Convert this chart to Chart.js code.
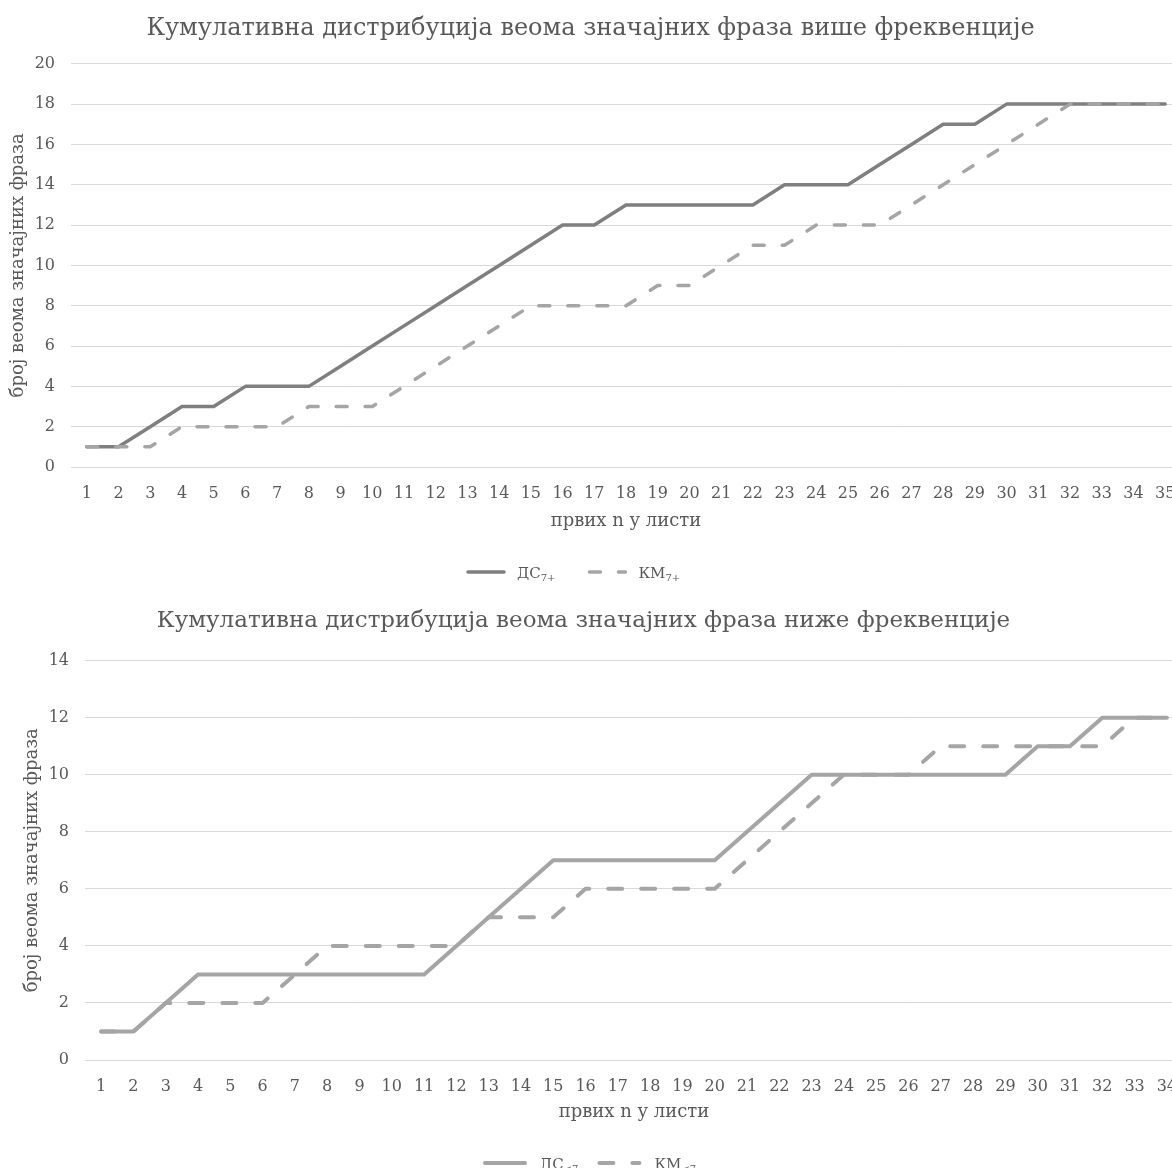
<!DOCTYPE html>
<html>
<head>
<meta charset="utf-8">
<script src="https://cdn.jsdelivr.net/npm/chart.js@4.4.1/dist/chart.umd.min.js"></script>
<style>
  html, body { margin: 0; padding: 0; background: #fff; overflow: hidden; }
  .box { position: relative; overflow: hidden; width: 1172px; }
  canvas { display: block; }
</style>
</head>
<body>
<div class="box" style="height:590px"><canvas id="chartTop" width="1182" height="590"></canvas></div>
<div class="box" style="height:578px"><canvas id="chartBottom" width="1200" height="578" style="margin-left:-16px"></canvas></div>
<script>
// верх: више фреквенције
const topLabels = ['1','2','3','4','5','6','7','8','9','10','11','12','13','14','15','16','17','18','19','20',
  '21','22','23','24','25','26','27','28','29','30','31','32','33','34','35'];
const topDS = [1,1,2,3,3,4,4,4,5,6,7,8,9,10,11,12,12,13,13,13,13,13,14,14,14,15,16,17,17,18,18,18,18,18,18];
const topKM = [1,1,1,2,2,2,2,3,3,3,4,5,6,7,8,8,8,8,9,9,10,11,11,12,12,12,13,14,15,16,17,18,18,18,18];
const topLegend = ['ДС', 'КМ'];
const topSub = ['7+', '7+'];

// доле: ниже фреквенције
const bottomLabels = ['1','2','3','4','5','6','7','8','9','10','11','12','13','14','15','16','17','18','19','20',
  '21','22','23','24','25','26','27','28','29','30','31','32','33','34'];
const bottomDS = [1,1,2,3,3,3,3,3,3,3,3,4,5,6,7,7,7,7,7,7,8,9,10,10,10,10,10,10,10,11,11,12,12,12];
const bottomKM = [1,1,2,2,2,2,3,4,4,4,4,4,5,5,5,6,6,6,6,6,7,8,9,10,10,10,11,11,11,11,11,11,12,12];
const bottomLegend = ['ДС', 'КМ'];
const bottomSub = ['<7', '<7'];

const FONT = "'DejaVu Serif', serif";
const TEXT = '#595959';

// legend with subscripts, drawn by hand
const subLegend = {
  id: 'subLegend',
  afterDraw(chart, args, opts) {
    const ctx = chart.ctx;
    const sets = chart.data.datasets;
    const W = opts.sample, gap = opts.gap;
    let x = opts.left;
    const y = opts.y;
    ctx.save();
    sets.forEach((ds, i) => {
      ctx.beginPath();
      ctx.strokeStyle = ds.borderColor;
      ctx.lineWidth = ds.borderWidth;
      ctx.lineCap = ds.borderCapStyle || 'butt';
      ctx.setLineDash(ds.borderDash || []);
      ctx.moveTo(x, y);
      ctx.lineTo(x + W, y);
      ctx.stroke();
      ctx.setLineDash([]);
      ctx.fillStyle = TEXT;
      ctx.textBaseline = 'alphabetic';
      ctx.textAlign = 'left';
      ctx.font = '15px ' + FONT;
      const tx = x + W + gap;
      ctx.fillText(opts.texts[i], tx, y + 6);
      const a = ctx.measureText(opts.texts[i]).width;
      ctx.font = '10px ' + FONT;
      ctx.fillText(opts.subs[i], tx + a, y + 9);
      const b = ctx.measureText(opts.subs[i]).width;
      x = tx + a + b + opts.between;
    });
    ctx.restore();
  }
};

function makeChart(id, cfg) {
  return new Chart(document.getElementById(id), {
    type: 'line',
    data: {
      labels: cfg.labels,
      datasets: [
        { label: cfg.legend[0], data: cfg.ds, borderColor: cfg.dsColor, borderWidth: cfg.lw,
          pointRadius: 0, tension: 0, order: 1, borderCapStyle: 'round', borderJoinStyle: 'round' },
        { label: cfg.legend[1], data: cfg.km, borderColor: cfg.kmColor, borderWidth: cfg.lw,
          borderDash: cfg.dash, pointRadius: 0, tension: 0, order: 0, borderCapStyle: 'round', borderJoinStyle: 'round' }
      ]
    },
    options: {
      responsive: false,
      animation: false,
      events: [],
      layout: { padding: { left: 0, right: cfg.padRight, top: 0, bottom: cfg.padBottom } },
      plugins: {
        legend: { display: false },
        tooltip: { enabled: false },
        title: {
          display: true,
          text: cfg.title,
          color: TEXT,
          font: { family: FONT, size: cfg.titleSize, weight: 'normal' },
          padding: cfg.titlePad
        },
        subLegend: { texts: cfg.legend, subs: cfg.subs, sample: cfg.sample, gap: cfg.gap, between: cfg.between, left: cfg.legendLeft, y: cfg.legendY }
      },
      scales: {
        x: {
          offset: true,
          grid: { display: false, drawTicks: true, tickLength: 17 },
          border: { display: false },
          ticks: { color: TEXT, font: { family: FONT, size: 16 }, autoSkip: false, maxRotation: 0, padding: 0 },
          title: { display: true, text: 'првих n у листи', color: TEXT, font: { family: FONT, size: 18 }, padding: 0 },
          afterFit: s => { s.height = cfg.xHeight; }
        },
        y: {
          min: 0,
          max: cfg.ymax,
          ticks: { stepSize: 2, color: TEXT, font: { family: FONT, size: 16 }, padding: cfg.yTickPad },
          grid: { color: '#d9d9d9', lineWidth: 1, drawTicks: false },
          border: { display: false },
          title: { display: true, text: 'број веома значајних фраза', color: TEXT, font: { family: FONT, size: 18 }, padding: { top: cfg.yTitlePad, bottom: 0 } },
          afterFit: s => { s.width = cfg.yWidth; }
        }
      }
    },
    plugins: [subLegend]
  });
}

makeChart('chartTop', {
  labels: topLabels, ds: topDS, km: topKM, legend: topLegend, subs: topSub,
  dsColor: '#7f7f7f', kmColor: '#a5a5a5', lw: 3.5, dash: [11, 18],
  title: 'Кумулативна дистрибуција веома значајних фраза више фреквенције',
  titleSize: 24, titlePad: { top: 14, bottom: 21 },
  ymax: 20, yWidth: 71, yTickPad: 16, yTitlePad: 8,
  xHeight: 65, padRight: 1, padBottom: 58,
  sample: 36, gap: 13, between: 34, legendLeft: 468, legendY: 572
});

// canvas shifted 16px left, so x coords below are page x + 16
makeChart('chartBottom', {
  labels: bottomLabels, ds: bottomDS, km: bottomKM, legend: bottomLegend, subs: bottomSub,
  dsColor: '#a5a5a5', kmColor: '#a5a5a5', lw: 4, dash: [14, 19],
  title: 'Кумулативна дистрибуција веома значајних фраза ниже фреквенције',
  titleSize: 23, titlePad: { top: 17, bottom: 26 },
  ymax: 14, yWidth: 101, yTickPad: 16, yTitlePad: 38,
  xHeight: 63, padRight: 1, padBottom: 45,
  sample: 40, gap: 15, between: 21, legendLeft: 501, legendY: 573
});
</script>
</body>
</html>
